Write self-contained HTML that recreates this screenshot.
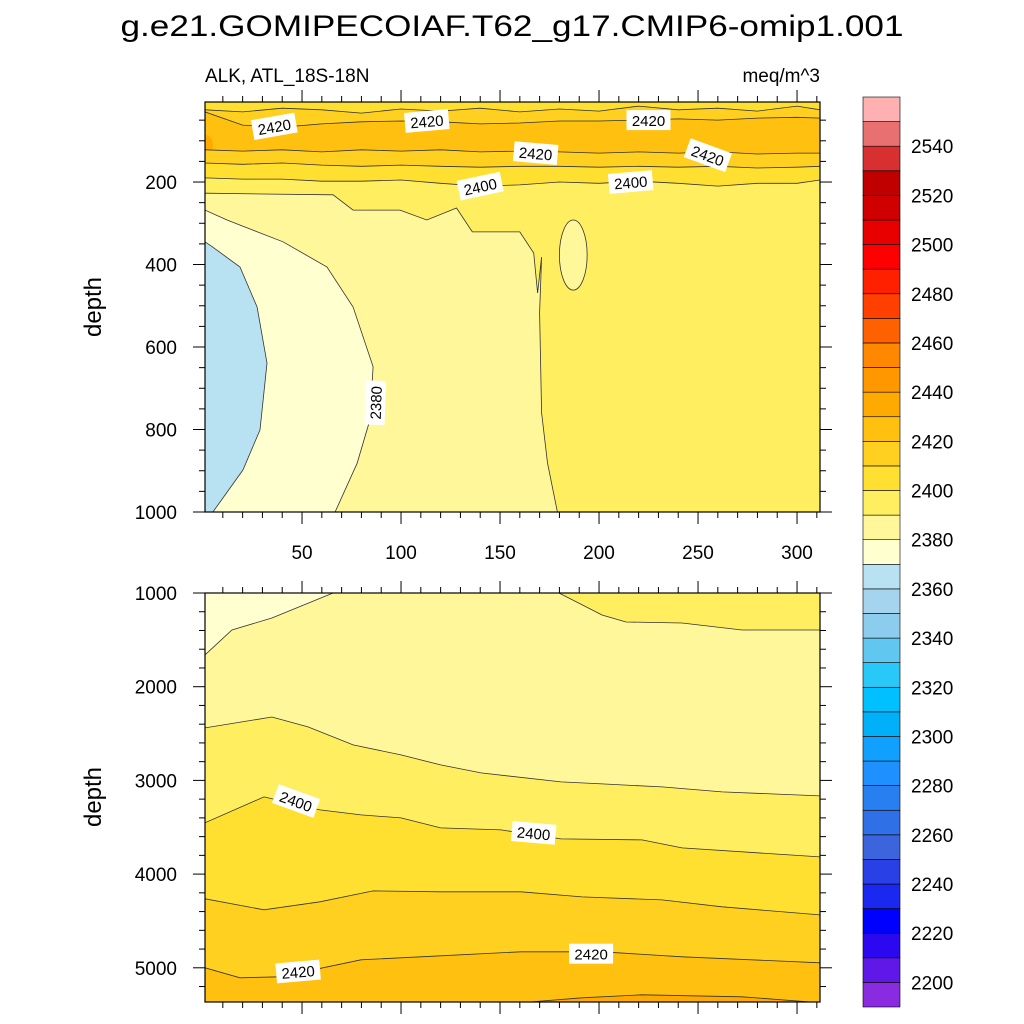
<!DOCTYPE html>
<html><head><meta charset="utf-8"><style>
html,body{margin:0;padding:0;background:#fff}
svg{display:block;font-family:"Liberation Sans",sans-serif}
</style></head><body>
<svg id="chart" width="1024" height="1024" viewBox="0 0 1024 1024">
<text x="512" y="36" text-anchor="middle" font-size="30" textLength="783" lengthAdjust="spacingAndGlyphs">g.e21.GOMIPECOIAF.T62_g17.CMIP6-omip1.001</text>
<text x="205" y="82" font-size="19">ALK, ATL_18S-18N</text>
<text x="820" y="82" font-size="19" text-anchor="end">meq/m^3</text>
<text transform="translate(101,307) rotate(-90)" text-anchor="middle" font-size="24">depth</text>
<text transform="translate(101,797) rotate(-90)" text-anchor="middle" font-size="24">depth</text>
<g id="top"></g><g id="bot"></g><g id="cbar"></g>
</svg>
<script>
// ---------- data ----------
const levelColors = ["#8a2be2","#6018e8","#2c08f0","#0000ff","#1a28f0","#2840e6","#3c64dc","#3070e6","#2880f0","#1e90ff","#10a0ff","#00b0f8","#00c0ff","#28c8f8","#60c8f0","#8ccced","#a4d4ee","#b8e2f2","#ffffd0","#fff799","#ffee60","#ffe030","#ffd020","#ffc010","#ffaa00","#ff9800","#ff8800","#ff6000","#ff4000","#ff2000","#ff0000","#e80000","#d00000","#c00000","#d83030","#e87070","#ffb0b0"];
const levelMin = 2200, levelStep = 10;
const cbarLabels = [2200,2220,2240,2260,2280,2300,2320,2340,2360,2380,2400,2420,2440,2460,2480,2500,2520,2540];
const xTicks = [50,100,150,200,250,300];
const topYTicks = [200,400,600,800,1000];
const botYTicks = [1000,2000,3000,4000,5000];
const topX = [1,20,40,60,80,100,120,140,160,180,200,220,240,260,280,300,311.6];
// top panel horizontal contours (depth at topX)
const top2410a = [25,30,21,25,33,23,28,21,30,23,28,16,25,21,28,16,25];
const top2420a = [30,62,67,59,54,52,54,59,57,52,52,50,47,50,45,43,45];
const top2420b = [122,125,122,127,122,125,122,127,125,127,130,127,130,127,132,130,130];
const top2410b = [154,157,154,159,162,159,162,164,162,162,164,162,164,162,166,164,162];
const top2400 = [190,193,193,198,198,195,203,210,207,200,203,198,203,210,203,203,195];
// top panel curved contours: [x, depth]
const top2390 = [[1,227],[30,229],[65.7,231],[75.8,268],[99.5,268],[113,292],[128,263],[136,321],[160,321],[167,372],[169,469],[171,382],[170,517],[171,760],[174,881],[179,1000]];
const top2380 = [[1,268],[12.1,292],[40.4,345],[62.6,406],[75.8,503],[85.9,648],[84.3,777],[77.8,882],[66.7,1000]];
const top2370 = [[1,345],[5,358],[18.7,406],[27.3,503],[32.3,639],[28.8,801],[20.2,898],[5,1000]];
const islandCenter = [187,377], islandRadius = [7,85];
// bottom panel contours
const bot2380 = [[1,1661],[14.6,1395],[34.8,1267],[65.7,1000]];
const bot2390r = [[179.8,1000],[201.5,1235],[213.6,1309],[241.9,1320],[272.2,1395],[311.6,1395]];
const bot2390 = [[1,2440],[34.8,2323],[53,2429],[75.8,2621],[100,2728],[120,2835],[140.4,2920],[180.8,3016],[201.5,3037],[231.8,3069],[262.1,3123],[311.6,3165]];
const bot2400 = [[1,3453],[30.8,3176],[59.1,3315],[79.8,3368],[100,3400],[120,3507],[150.5,3528],[180.8,3624],[221.7,3635],[241.9,3720],[311.6,3816]];
const bot2410 = [[1,4264],[30.8,4381],[59.1,4296],[85.9,4179],[120,4189],[160.6,4189],[191.4,4243],[231.8,4275],[262.1,4349],[311.6,4435]];
const bot2420 = [[1,5000],[18.7,5107],[38.9,5096],[79.8,4915],[120,4872],[160.6,4829],[201.5,4829],[241.9,4883],[311.6,4947]];
const bot2430 = [[160.6,5373],[191.4,5320],[221.7,5288],[272.2,5309],[311.6,5373]];
const topLabels = [["2420",36,65,-10],["2420",113,52,-5],["2420",225,50,0],["2420",168,130,5],["2420",255,135,20],["2400",140,210,-12],["2400",216,200,-5],["2380",87,735,-88]];
const botLabels = [["2400",47,3220,20],["2400",167,3560,5],["2420",48,5040,-5],["2420",196,4850,0]];

// ---------- axes ----------
const NS="http://www.w3.org/2000/svg";
const L=205,R=820,X0=1,X1=311.6;
const sx=x=>L+(x-X0)*(R-L)/(X1-X0);
const T1=102,B1=512,D0=6,D1=1000;
const sy1=d=>T1+(d-D0)*(B1-T1)/(D1-D0);
const T2=593,B2=1002,E0=1000,E1=5365;
const sy2=d=>T2+(d-E0)*(B2-T2)/(E1-E0);
const col=v=>levelColors[Math.floor((v-levelMin)/levelStep)+1];
function mk(tag,attrs,parent){const e=document.createElementNS(NS,tag);for(const k in attrs)e.setAttribute(k,attrs[k]);parent.appendChild(e);return e;}
function pathStr(pts){return pts.map((p,i)=>(i?'L':'M')+p[0].toFixed(1)+','+p[1].toFixed(1)).join('');}

function drawPanel(g,sy,T,B,D1v,name){
  const clip=mk('clipPath',{id:'clip-'+name},g);
  mk('rect',{x:L,y:T,width:R-L,height:B-T},clip);
  const cg=mk('g',{'clip-path':'url(#clip-'+name+')'},g);
  return cg;
}
function fillBelow(cg,pts,sy,bottomD,color,name){
  const p=pts.map(q=>[sx(q[0]),sy(q[1])]);
  const poly=p.concat([[sx(pts[pts.length-1][0]),sy(bottomD)],[sx(pts[0][0]),sy(bottomD)]]);
  const f=mk('path',{d:pathStr(poly)+'Z',fill:color,stroke:'none'},cg);
  
  
  const l=mk('path',{d:pathStr(p),fill:'none',stroke:'#333',"stroke-width":0.8},cg);
  
  
}
function fillCorner(cg,pts,sy,cornerPts,color,name){
  const p=pts.map(q=>[sx(q[0]),sy(q[1])]);
  const poly=p.concat(cornerPts.map(q=>[sx(q[0]),sy(q[1])]));
  const f=mk('path',{d:pathStr(poly)+'Z',fill:color},cg);
  
  
  const l=mk('path',{d:pathStr(p),fill:'none',stroke:'#333',"stroke-width":0.8},cg);
  
  
}
function labels(cg,list,sy,name){
  list.forEach(a=>{
    const g=mk('g',{transform:`translate(${sx(a[1]).toFixed(1)},${sy(a[2]).toFixed(1)}) rotate(${a[3]})`},cg);
    
    
    mk('rect',{x:-22,y:-10,width:44,height:20,fill:'#fff'},g);
    const t=mk('text',{x:0,y:6,'text-anchor':'middle','font-size':15},g);t.textContent=a[0];
  });
}
function frame(g,sy,T,B,yTicks,yMinorStep,yMin,yMax,showX,name){
  for(let x=10;x<=310;x+=10){
    const maj=x%50===0, len=maj?12:6;
    mk('line',{x1:sx(x),x2:sx(x),y1:T,y2:T-len,stroke:'#000','stroke-width':1},g);
    mk('line',{x1:sx(x),x2:sx(x),y1:B,y2:B+len,stroke:'#000','stroke-width':1},g);
  }
  for(let d=Math.ceil(yMin/yMinorStep)*yMinorStep;d<=yMax;d+=yMinorStep){
    const maj=yTicks.includes(d), len=maj?12:6;
    mk('line',{x1:L,x2:L-len,y1:sy(d),y2:sy(d),stroke:'#000','stroke-width':1},g);
    mk('line',{x1:R,x2:R+len,y1:sy(d),y2:sy(d),stroke:'#000','stroke-width':1},g);
  }
  yTicks.forEach(d=>{const t=mk('text',{x:177,y:sy(d)+7,'text-anchor':'end','font-size':19},g);
    t.textContent=d;});
  if(showX) xTicks.forEach(x=>{const t=mk('text',{x:sx(x),y:559,'text-anchor':'middle','font-size':19},g);
    t.textContent=x;});
  const r=mk('rect',{x:L,y:T,width:R-L,height:B-T,fill:'none',stroke:'#000','stroke-width':1.2},g);
  
}

// ---------- top panel ----------
const gt=document.getElementById('top');

const ct=drawPanel(gt,sy1,T1,B1,D1,'top');
mk('rect',{x:L,y:T1,width:R-L,height:B1-T1,fill:col(2405)},ct);
const z=(arr)=>topX.map((x,i)=>[x,arr[i]]);
fillBelow(ct,z(top2410a),sy1,D1,col(2415),'contour-2410-upper');
fillBelow(ct,z(top2420a),sy1,D1,col(2425),'contour-2420-upper');
const oe=mk('ellipse',{cx:sx(1),cy:sy1(110),rx:8,ry:10,fill:col(2435),stroke:'none'},ct);

fillBelow(ct,z(top2420b),sy1,D1,col(2415),'contour-2420-lower');
fillBelow(ct,z(top2410b),sy1,D1,col(2405),'contour-2410-lower');
fillBelow(ct,z(top2400),sy1,D1,col(2395),'contour-2400');
fillCorner(ct,top2390,sy1,[[1,D1]],col(2385),'contour-2390');
fillCorner(ct,top2380,sy1,[[1,D1]],col(2375),'contour-2380');
fillCorner(ct,top2370,sy1,[[1,D1]],col(2365),'contour-2370');
const isl=mk('ellipse',{cx:sx(islandCenter[0]),cy:sy1(islandCenter[1]),rx:sx(islandCenter[0]+islandRadius[0])-sx(islandCenter[0]),ry:sy1(islandCenter[1]+islandRadius[1])-sy1(islandCenter[1]),fill:col(2385),stroke:'#333','stroke-width':0.8},ct);

labels(ct,topLabels,sy1,'top');
frame(gt,sy1,T1,B1,topYTicks,50,50,1000,true,'top');

// ---------- bottom panel ----------
const gb=document.getElementById('bot');

const cb=drawPanel(gb,sy2,T2,B2,E1,'bot');
mk('rect',{x:L,y:T2,width:R-L,height:B2-T2,fill:col(2385)},cb);
fillCorner(cb,bot2380,sy2,[[1,1000]],col(2375),'contour-2380-bottom');
fillCorner(cb,bot2390r,sy2,[[311.6,1000]],col(2395),'contour-2390-upper-right');
fillBelow(cb,bot2390,sy2,E1+50,col(2395),'contour-2390-bottom');
fillBelow(cb,bot2400,sy2,E1+50,col(2405),'contour-2400-bottom');
fillBelow(cb,bot2410,sy2,E1+50,col(2415),'contour-2410-bottom');
fillBelow(cb,bot2420,sy2,E1+50,col(2425),'contour-2420-bottom');
fillBelow(cb,bot2430,sy2,E1+50,col(2435),'contour-2430-bottom');
labels(cb,botLabels,sy2,'bottom');
frame(gb,sy2,T2,B2,botYTicks,200,1000,5365,false,'bottom');

// ---------- colorbar ----------
const gc=document.getElementById('cbar');

const CT=97,CB=1007,CL=863,CW=37,n=levelColors.length,bh=(CB-CT)/n;
levelColors.forEach((c,i)=>{
  const r=mk('rect',{x:CL,y:CB-(i+1)*bh,width:CW,height:bh,fill:c,stroke:'#000','stroke-width':0.6},gc);
  
});
cbarLabels.forEach(v=>{
  const k=(v-levelMin)/levelStep+1;
  const t=mk('text',{x:911,y:CB-k*bh+7,'font-size':19},gc);
  
  t.textContent=v;
});
</script>
</body></html>
